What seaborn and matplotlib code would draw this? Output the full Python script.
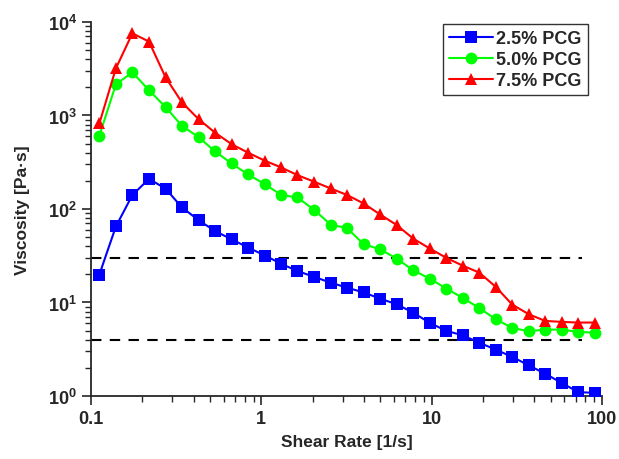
import matplotlib
matplotlib.use("Agg")
import matplotlib.pyplot as plt
import matplotlib.ticker as mticker
import seaborn as sns
import pandas as pd
import numpy as np

# shear rate points (log spaced as measured)
shear_rate = [0.112, 0.14, 0.175, 0.219, 0.274, 0.342, 0.428, 0.535, 0.669, 0.836,
              1.05, 1.31, 1.63, 2.04, 2.55, 3.19, 3.99, 4.98, 6.23, 7.79,
              9.74, 12.2, 15.2, 19.0, 23.8, 29.7, 37.1, 46.4, 58.0, 72.5, 90.6]

visc_25 = [19.9, 65, 141, 210, 165, 104, 75.9, 58.1, 47.4, 38.7,
           31.8, 25.9, 21.7, 18.8, 16.3, 14.4, 12.8, 11.0, 9.57, 7.8,
           6.05, 4.97, 4.46, 3.72, 3.13, 2.62, 2.13, 1.73, 1.38, 1.10, 1.08]
visc_50 = [608, 2153, 2893, 1866, 1230, 774, 587, 413, 307, 234,
           184, 141, 133, 98, 68.2, 62.3, 42.0, 37.1, 29.5, 22.1,
           18.0, 14.1, 11.2, 8.75, 6.61, 5.35, 4.92, 5.13, 5.13, 4.84, 4.76]
visc_75 = [823, 3190, 7570, 6170, 2560, 1380, 915, 655, 494, 400,
           328, 278, 230, 196, 166, 141, 114.5, 87.4, 67.4, 48.3,
           37.8, 30.0, 24.8, 20.9, 14.7, 9.5, 7.5, 6.35, 6.2, 6.1, 6.1]

labels = ["2.5% PCG", "5.0% PCG", "7.5% PCG"]
ref_levels = [30, 4]
ref_x = [0.1, 76]

df = pd.DataFrame({
    "rate": shear_rate * 3,
    "visc": visc_25 + visc_50 + visc_75,
    "sample": np.repeat(labels, len(shear_rate)),
})

sns.set_style("ticks")
plt.rcParams["font.family"] = ["Liberation Sans", "DejaVu Sans"]
plt.rcParams["font.weight"] = "bold"
plt.rcParams["axes.labelweight"] = "bold"
plt.rcParams["mathtext.fontset"] = "custom"
plt.rcParams["mathtext.rm"] = "Liberation Sans:bold"
plt.rcParams["mathtext.it"] = "Liberation Sans:bold"
plt.rcParams["mathtext.bf"] = "Liberation Sans:bold"

fig = plt.figure(figsize=(6.19, 4.6), dpi=100)
ax = fig.add_axes([0.147, 0.137, 0.8255, 0.813])

palette = {"2.5% PCG": "#0000ff", "5.0% PCG": "#00ff00", "7.5% PCG": "#ff0000"}
markers = {"2.5% PCG": "s", "5.0% PCG": "o", "7.5% PCG": "^"}

for lvl in ref_levels:
    ax.plot(ref_x, [lvl, lvl], color="black", linestyle=(0, (5, 4)), linewidth=1.5, zorder=1)

sns.lineplot(data=df, x="rate", y="visc", hue="sample", style="sample",
             palette=palette, markers=markers, dashes=False, markersize=8.5,
             markeredgewidth=0, linewidth=1.5, estimator=None, ax=ax, zorder=3)

ax.set_xscale("log")
ax.set_yscale("log")
ax.set_xlim(0.1, 100)
ax.set_ylim(1, 1e4)
ax.xaxis.set_major_formatter(mticker.FuncFormatter(lambda v, _: f"{v:g}"))
ax.tick_params(axis="both", which="major", length=6.5, width=1.2, labelsize=13, direction="out")
ax.tick_params(axis="both", which="minor", length=4, width=1, direction="out")
for s in ["top", "right"]:
    ax.spines[s].set_visible(False)
for s in ["left", "bottom"]:
    ax.spines[s].set_linewidth(1.3)

ax.set_xlabel("Shear Rate [1/s]", fontsize=12.5, fontweight="bold", labelpad=5)
ax.set_ylabel("Viscosity [Pa·s]", fontsize=12.5, fontweight="bold", labelpad=13)

handles, lbls = ax.get_legend_handles_labels()
leg = ax.legend(handles, lbls, loc="upper right", bbox_to_anchor=(0.9726, 0.995),
                fontsize=13, frameon=True, fancybox=False, edgecolor="black",
                handlelength=2.4, handletextpad=0.2, borderpad=0.35, labelspacing=0.22,
                borderaxespad=0)
leg.get_frame().set_linewidth(1.0)

fig.savefig("out.png", dpi=100)
